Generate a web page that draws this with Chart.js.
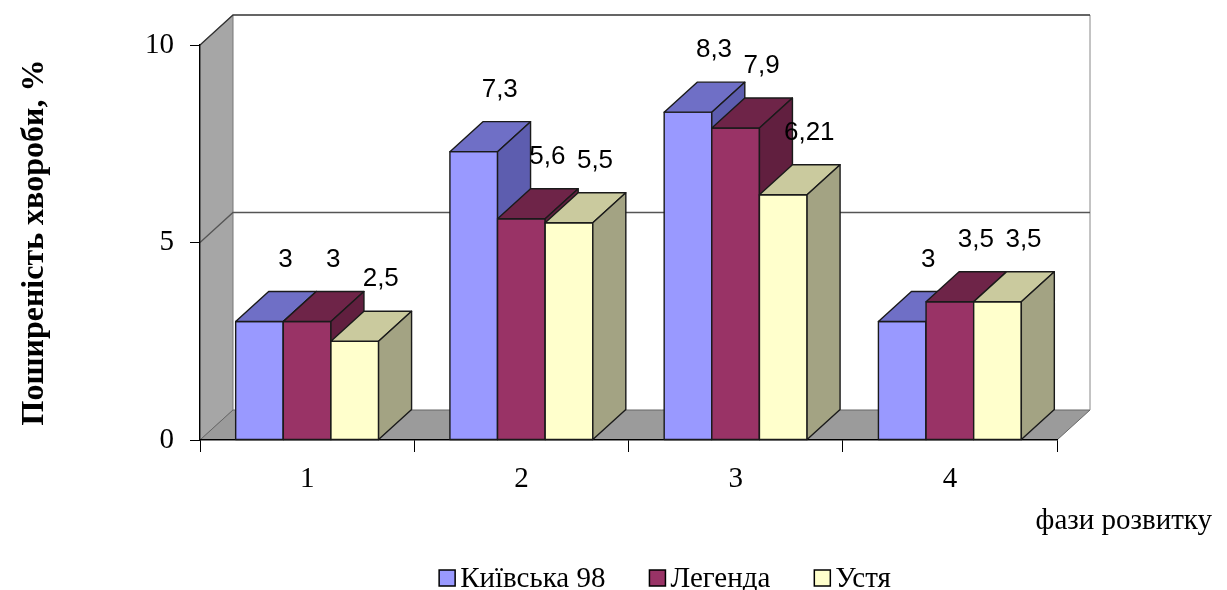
<!DOCTYPE html>
<html>
<head>
<meta charset="utf-8">
<script src="https://cdn.jsdelivr.net/npm/chart.js@4.4.1/dist/chart.umd.min.js"></script>
<style>
  html, body { margin: 0; padding: 0; background: #fff; }
  #wrap { width: 1227px; height: 590px; position: relative; }
</style>
</head>
<body>
<div id="wrap"><canvas id="phaseChart"></canvas></div>
<script>
// data
const phases = ["1", "2", "3", "4"];
const kyivska98 = [3, 7.3, 8.3, 3];
const lehenda = [3, 5.6, 7.9, 3.5];
const ustia = [2.5, 5.5, 6.21, 3.5];
const seriesNames = ["Київська 98", "Легенда", "Устя"];
const yTickValues = [0, 5, 10];
const yTitle = "Поширеність хвороби, %";
const xTitle = "фази розвитку";

// front / top / side colours of each series
const fronts = ["#9999ff", "#993366", "#ffffcc"];
const tops = ["#6f6fc6", "#6e2448", "#caca9e"];
const sides = ["#5d5daf", "#611f3f", "#a3a383"];

// depth of the 3d box
const DX = 33, DY = -30;
const serif = "'Liberation Serif', 'Times New Roman', serif";
const sans = "'Liberation Sans', Arial, sans-serif";

function fmt(v) {
    return String(v).replace(".", ",");
}

function poly(ctx, pts, fill, stroke) {
    ctx.beginPath();
    ctx.moveTo(pts[0][0], pts[0][1]);
    for (let i = 1; i < pts.length; i++) ctx.lineTo(pts[i][0], pts[i][1]);
    ctx.closePath();
    if (fill) { ctx.fillStyle = fill; ctx.fill(); }
    if (stroke) { ctx.strokeStyle = stroke; ctx.stroke(); }
}

const box3d = {
    id: "box3d",
    // walls and floor, under the axes
    beforeDraw(chart) {
        const ctx = chart.ctx;
        const a = chart.chartArea;
        const y = chart.scales.y;
        ctx.save();
        ctx.lineWidth = 1;
        // back wall
        poly(ctx, [[a.left + DX, a.top + DY], [a.right + DX, a.top + DY],
                   [a.right + DX, a.bottom + DY], [a.left + DX, a.bottom + DY]], "#ffffff", null);
        // left wall
        poly(ctx, [[a.left, a.bottom], [a.left, a.top], [a.left + DX, a.top + DY],
                   [a.left + DX, a.bottom + DY]], "#a6a6a6", "#777");
        // floor
        poly(ctx, [[a.left, a.bottom], [a.right, a.bottom], [a.right + DX, a.bottom + DY],
                   [a.left + DX, a.bottom + DY]], "#9b9b9b", "#666");
        // right edge of back wall
        ctx.strokeStyle = "#888";
        ctx.beginPath();
        ctx.moveTo(a.right + DX, a.top + DY);
        ctx.lineTo(a.right + DX, a.bottom + DY);
        ctx.stroke();
        // grid lines on the walls
        yTickValues.forEach(v => {
            if (v === 0) return;
            const py = y.getPixelForValue(v);
            ctx.strokeStyle = v === 10 ? "#333" : "#555";
            ctx.lineWidth = 1.3;
            ctx.beginPath();
            ctx.moveTo(a.left, py);
            ctx.lineTo(a.left + DX, py + DY);
            ctx.lineTo(a.right + DX, py + DY);
            ctx.stroke();
        });
        ctx.restore();
    },
    // bars are drawn by hand below, in front-to-back order
    beforeDatasetDraw() {
        return false;
    },
    afterDatasetsDraw(chart) {
        const ctx = chart.ctx;
        const metas = chart.data.datasets.map((d, i) => chart.getDatasetMeta(i));
        ctx.save();
        ctx.lineWidth = 1.4;
        ctx.lineJoin = "round";
        for (let c = 0; c < phases.length; c++) {
            metas.forEach((meta, s) => {
                const el = meta.data[c];
                const { x, y, base, width } = el.getProps(["x", "y", "base", "width"], true);
                const x0 = x - width / 2, x1 = x + width / 2;
                poly(ctx, [[x0, y], [x1, y], [x1, base], [x0, base]], fronts[s], "#1a1a1a");
                poly(ctx, [[x0, y], [x1, y], [x1 + DX, y + DY], [x0 + DX, y + DY]], tops[s], "#1a1a1a");
                poly(ctx, [[x1, y], [x1 + DX, y + DY], [x1 + DX, base + DY], [x1, base]], sides[s], "#1a1a1a");
            });
        }
        // value labels
        ctx.fillStyle = "#000";
        ctx.font = "26px " + sans;
        ctx.textAlign = "center";
        ctx.textBaseline = "middle";
        metas.forEach((meta, s) => {
            const values = chart.data.datasets[s].data;
            meta.data.forEach((el, c) => {
                ctx.fillText(fmt(values[c]), el.x + 26, el.y - 62);
            });
        });
        ctx.restore();
    },
    // legend and the x title
    afterDraw(chart) {
        const ctx = chart.ctx;
        const legendFont = "29px " + serif;
        ctx.save();
        ctx.font = legendFont;
        ctx.textBaseline = "middle";
        ctx.textAlign = "right";
        ctx.fillStyle = "#000";
        ctx.fillText(xTitle, 1212, 521);

        ctx.textAlign = "left";
        const boxSize = 16, boxGap = 5, itemGap = 44;
        const widths = seriesNames.map(n => ctx.measureText(n).width);
        const total = widths.reduce((t, w) => t + w + boxSize + boxGap, 0) + itemGap * (seriesNames.length - 1);
        let lx = 665 - total / 2;
        const ly = 578;
        seriesNames.forEach((n, i) => {
            ctx.fillStyle = chart.data.datasets[i].backgroundColor;
            ctx.fillRect(lx, ly - boxSize / 2, boxSize, boxSize);
            ctx.strokeStyle = "#000";
            ctx.lineWidth = 1.5;
            ctx.strokeRect(lx, ly - boxSize / 2, boxSize, boxSize);
            ctx.fillStyle = "#000";
            ctx.font = legendFont;
            ctx.fillText(n, lx + boxSize + boxGap, ly + 1);
            lx += boxSize + boxGap + widths[i] + itemGap;
        });
        ctx.restore();
    }
};

const ctx = document.getElementById("phaseChart").getContext("2d");
const myChart = new Chart(ctx, {
    type: "bar",
    data: {
        labels: phases,
        datasets: [
            { label: seriesNames[0], data: kyivska98, backgroundColor: fronts[0] },
            { label: seriesNames[1], data: lehenda, backgroundColor: fronts[1] },
            { label: seriesNames[2], data: ustia, backgroundColor: fronts[2] }
        ]
    },
    options: {
        responsive: true,
        maintainAspectRatio: false,
        animation: false,
        layout: { padding: { top: 45, right: 170, left: 0, bottom: 0 } },
        datasets: {
            bar: { categoryPercentage: 0.667, barPercentage: 1 }
        },
        scales: {
            x: {
                afterFit: scale => { scale.height = 150; },
                grid: { display: true, offset: true, drawOnChartArea: false, drawTicks: true, tickLength: 12, color: "#000" },
                border: { display: true, color: "#000", width: 1.3 },
                ticks: { color: "#000", font: { family: serif, size: 29 }, padding: 10 }
            },
            y: {
                min: 0,
                max: 10,
                afterFit: scale => { scale.width = 200; },
                afterBuildTicks: scale => { scale.ticks = yTickValues.map(v => ({ value: v })); },
                grid: { display: true, drawOnChartArea: false, drawTicks: true, tickLength: 10, color: "#000" },
                border: { display: true, color: "#000", width: 1.3 },
                ticks: { color: "#000", font: { family: serif, size: 29 }, padding: 16 },
                title: {
                    display: true,
                    text: yTitle,
                    color: "#000",
                    font: { family: serif, size: 32, weight: "bold" },
                    padding: { top: 16, bottom: 0 }
                }
            }
        },
        plugins: {
            legend: { display: false },
            tooltip: { enabled: false }
        }
    },
    plugins: [box3d]
});
</script>
</body>
</html>
